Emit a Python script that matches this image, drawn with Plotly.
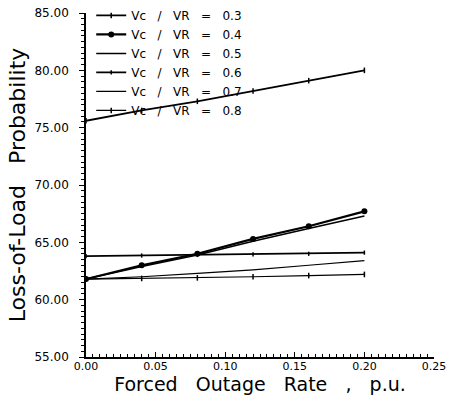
import plotly.graph_objects as go

x_for = [0.00, 0.04, 0.08, 0.12, 0.16, 0.20]
ratio_labels = ["0.3", "0.4", "0.5", "0.6", "0.7", "0.8"]
lolp_03 = [75.6, 76.5, 77.3, 78.2, 79.1, 80.0]
lolp_04 = [61.8, 63.0, 64.0, 65.3, 66.4, 67.7]
lolp_05 = [61.8, 62.9, 63.9, 65.1, 66.2, 67.3]
lolp_06 = [63.8, 63.85, 63.9, 63.95, 64.0, 64.1]
lolp_07 = [61.8, 62.0, 62.3, 62.6, 63.0, 63.4]
lolp_08 = [61.8, 61.85, 61.9, 62.0, 62.1, 62.2]

series = [lolp_03, lolp_04, lolp_05, lolp_06, lolp_07, lolp_08]
styles = [
    dict(mode="lines+markers", marker=dict(symbol="line-ns", size=4, line=dict(width=1.5, color="black"))),
    dict(mode="lines+markers", marker=dict(symbol="circle", size=6, color="black")),
    dict(mode="lines"),
    dict(mode="lines+markers", marker=dict(symbol="line-ns", size=3, line=dict(width=1.5, color="black"))),
    dict(mode="lines"),
    dict(mode="lines+markers", marker=dict(symbol="line-ns", size=4, line=dict(width=1.5, color="black"))),
]
widths = [1.8, 2.2, 1.6, 1.8, 1.2, 1.2]

fig = go.Figure()
for lab, ys, st, w in zip(ratio_labels, series, styles, widths):
    fig.add_trace(go.Scatter(
        x=x_for, y=ys, name="Vc   /   VR   =   " + lab,
        line=dict(color="black", width=w), **st))

font = "DejaVu Sans"
fig.update_layout(
    width=450, height=407,
    margin=dict(l=86, r=16, t=13, b=50, autoexpand=False),
    paper_bgcolor="white", plot_bgcolor="white",
    font=dict(family=font, color="black"),
    showlegend=True,
    legend=dict(x=0.015, y=1.035, xanchor="left", yanchor="top",
                font=dict(size=12, family=font), bgcolor="rgba(0,0,0,0)",
                itemwidth=30, tracegroupgap=0),
    xaxis=dict(range=[0, 0.25], tickvals=[0, 0.05, 0.10, 0.15, 0.20, 0.25],
               tickformat=".2f", showgrid=False, zeroline=False, automargin=False,
               showline=True, linecolor="black", linewidth=1.5,
               ticks="inside", ticklen=5, tickwidth=1.2, tickcolor="black",
               minor=dict(dtick=0.005, ticks="inside", ticklen=3, tickcolor="black"),
               tickfont=dict(size=11, family=font), ticklabelstandoff=-2,
               ticklabeloverflow="allow",
               title=dict(text="Forced   Outage   Rate   ,   p.u.", font=dict(size=19, family=font), standoff=0)),
    yaxis=dict(range=[55, 85], dtick=5, tickformat=".2f", showgrid=False, zeroline=False, automargin=False,
               showline=True, linecolor="black", linewidth=1.5,
               ticks="outside", ticklen=5, tickwidth=1.2, tickcolor="black",
               minor=dict(dtick=0.5, ticks="outside", ticklen=3, tickcolor="black"),
               tickfont=dict(size=12, family=font), ticklabelstandoff=8,
               ticklabeloverflow="allow",
               title=dict(text="Loss-of-Load   Probability", font=dict(size=22, family=font), standoff=3)),
)
fig.write_html("out.html", config={"displayModeBar": False},
               post_script="document.body.style.margin='0px';document.body.style.overflow='hidden';")
